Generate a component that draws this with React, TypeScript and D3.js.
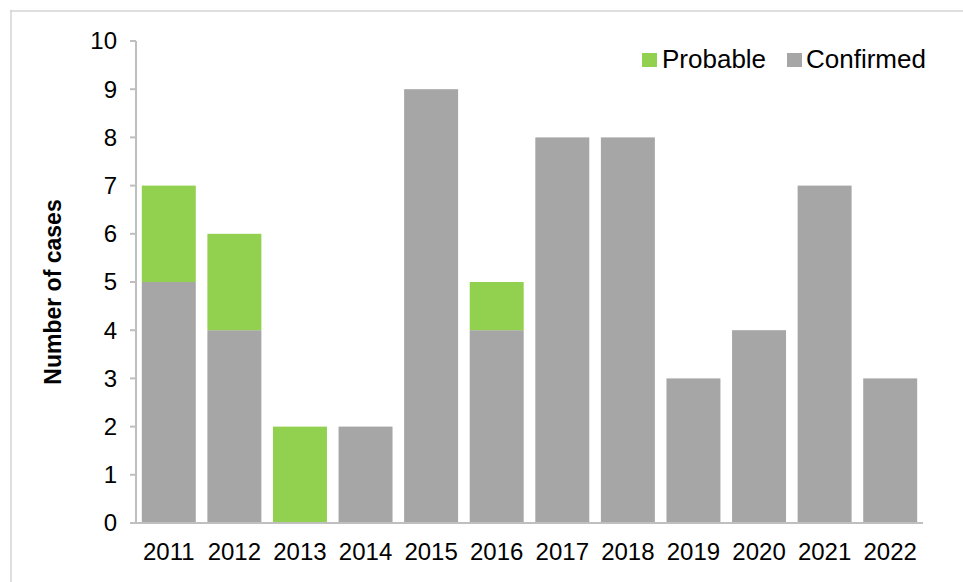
import React from "react";
import * as d3 from "d3";

const years = ["2011","2012","2013","2014","2015","2016","2017","2018","2019","2020","2021","2022"];
const confirmed = [5, 4, 0, 2, 9, 4, 8, 8, 3, 4, 7, 3];
const probable = [2, 2, 2, 0, 0, 1, 0, 0, 0, 0, 0, 0];
const yTicks = [0,1,2,3,4,5,6,7,8,9,10];
const seriesNames = ["Probable", "Confirmed"];
const seriesColors = ["#92D050", "#A6A6A6"];

export default function App() {
  const W = 963, H = 582;
  const x0 = 136, x1 = 923, y0 = 523, y1 = 41;
  const x = d3.scaleBand<string>().domain(years).range([x0, x1]).paddingInner(0.177).paddingOuter(0.0885);
  const y = d3.scaleLinear().domain([0, 10]).range([y0, y1]);
  const font = "Arial, 'Liberation Sans', sans-serif";
  const axisColor = "#BFBFBF";
  return (
    <div style={{ position: "absolute", left: 0, top: 0 }}>
      <svg width={W} height={H} style={{ display: "block", background: "#fff" }}>
        <line x1={10} x2={W} y1={11} y2={11} stroke="#D4D4D4" strokeWidth={1.5} />
        <line x1={11} x2={11} y1={10} y2={H} stroke="#D4D4D4" strokeWidth={1.5} />
        {years.map((yr, i) => (
          <g key={yr}>
            {confirmed[i] > 0 && (
              <rect x={x(yr)} y={y(confirmed[i])} width={x.bandwidth()} height={y(0) - y(confirmed[i])} fill={seriesColors[1]} />
            )}
            {probable[i] > 0 && (
              <rect x={x(yr)} y={y(confirmed[i] + probable[i])} width={x.bandwidth()} height={y(confirmed[i]) - y(confirmed[i] + probable[i])} fill={seriesColors[0]} />
            )}
            <text x={(x(yr) as number) + x.bandwidth() / 2} y={560} textAnchor="middle" fontFamily={font} fontSize={24} fill="#000">{yr}</text>
          </g>
        ))}
        <line x1={x0} x2={x0} y1={y1} y2={y0} stroke={axisColor} strokeWidth={2} />
        <line x1={130} x2={x1} y1={y0} y2={y0} stroke={axisColor} strokeWidth={2} />
        {yTicks.map((t) => (
          <g key={t}>
            <line x1={130} x2={x0} y1={y(t)} y2={y(t)} stroke={axisColor} strokeWidth={2} />
            <text x={117} y={y(t)} dy="0.35em" textAnchor="end" fontFamily={font} fontSize={24} fill="#000">{t}</text>
          </g>
        ))}
        <text transform="translate(61,292) rotate(-90)" textAnchor="middle" fontFamily={font} fontSize={23} fontWeight="bold" fill="#000">Number of cases</text>
        <g>
          <rect x={642} y={53} width={15} height={14} fill={seriesColors[0]} />
          <text x={662} y={68.4} fontFamily={font} fontSize={26} fill="#000">{seriesNames[0]}</text>
          <rect x={787} y={53} width={15} height={14} fill={seriesColors[1]} />
          <text x={806} y={68.4} fontFamily={font} fontSize={26} fill="#000">{seriesNames[1]}</text>
        </g>
      </svg>
    </div>
  );
}
